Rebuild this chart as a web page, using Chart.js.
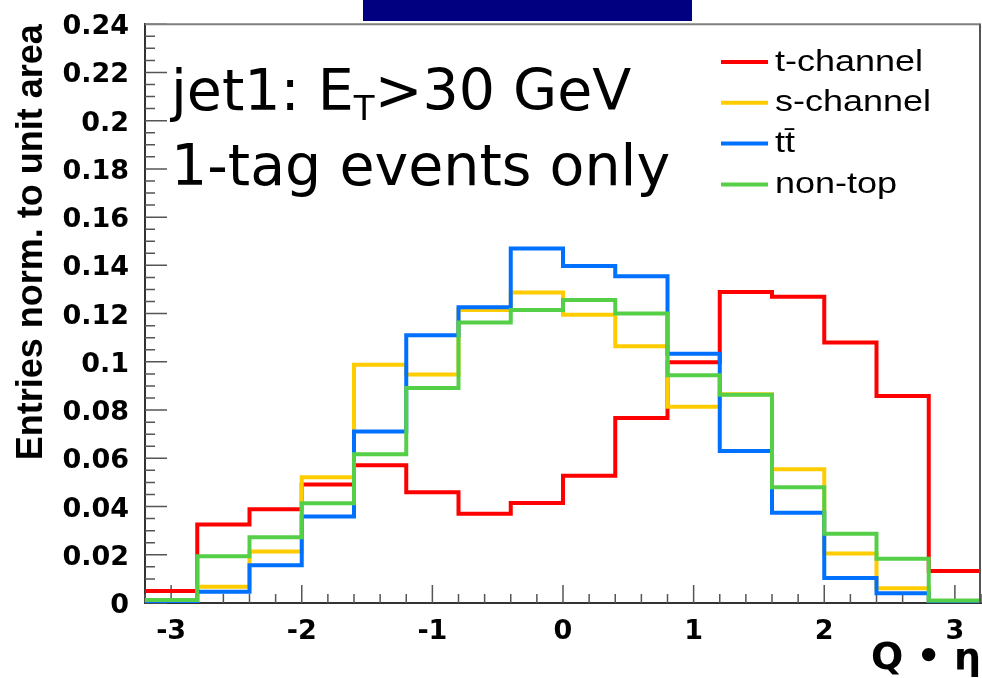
<!DOCTYPE html>
<html>
<head>
<meta charset="utf-8">
<script src="https://cdn.jsdelivr.net/npm/chart.js@4.4.1/dist/chart.umd.min.js"></script>
<style>
  html, body { margin: 0; padding: 0; background: #fff; }
  #wrap { position: relative; width: 982px; height: 678px; }
  #banner { position: absolute; left: 363px; top: 0; width: 329px; height: 21px; background: #000080; }
</style>
</head>
<body>
<div id="wrap">
  <canvas id="chart"></canvas>
  <div id="banner"></div>
</div>
<script>
// Q·η of the leading jet (E_T > 30 GeV), 1-tag events, each sample normalised to unit area
const binEdges = [-3.2, -2.8, -2.4, -2.0, -1.6, -1.2, -0.8, -0.4, 0.0, 0.4, 0.8, 1.2, 1.6, 2.0, 2.4, 2.8, 3.2];

const tChannel = [0.0050, 0.0326, 0.0389, 0.0491, 0.0571, 0.0459, 0.0370, 0.0415,
                  0.0528, 0.0767, 0.0998, 0.1290, 0.1270, 0.1080, 0.0858, 0.0133];
const sChannel = [0.0005, 0.0067, 0.0214, 0.0521, 0.0988, 0.0947, 0.1215, 0.1287,
                  0.1195, 0.1065, 0.0814, 0.0866, 0.0555, 0.0205, 0.0061, 0.0002];
const ttbar    = [0.0000, 0.0047, 0.0157, 0.0359, 0.0711, 0.1110, 0.1226, 0.1470,
                  0.1397, 0.1355, 0.1034, 0.0630, 0.0374, 0.0104, 0.0040, 0.0000];
const nonTop   = [0.0012, 0.0194, 0.0273, 0.0414, 0.0617, 0.0892, 0.1163, 0.1215,
                  0.1256, 0.1200, 0.0944, 0.0864, 0.0480, 0.0287, 0.0184, 0.0010];

const seriesNames = ['t-channel', 's-channel', 't\u0074\u0304', 'non-top'];
const seriesColors = ['#ff0000', '#ffcc00', '#0070ff', '#55cf48'];

const xTickValues = [-3, -2, -1, 0, 1, 2, 3];
const xTickLabels = ['-3', '-2', '-1', '0', '1', '2', '3'];
const yTickValues = [0, 0.02, 0.04, 0.06, 0.08, 0.10, 0.12, 0.14, 0.16, 0.18, 0.20, 0.22, 0.24];
const yTickLabels = ['0', '0.02', '0.04', '0.06', '0.08', '0.1', '0.12', '0.14', '0.16', '0.18', '0.2', '0.22', '0.24'];

// one point per bin low edge, plus the upper edge of the last bin, drawn as a step outline
function histPoints(values) {
  return binEdges.map((x, i) => ({ x: x, y: values[Math.min(i, values.length - 1)] }));
}

const allSeries = [tChannel, sChannel, ttbar, nonTop];
const datasets = allSeries.map((vals, i) => ({
  label: seriesNames[i],
  data: histPoints(vals),
  borderColor: seriesColors[i],
  backgroundColor: seriesColors[i],
  borderWidth: 4,
  stepped: 'before',
  fill: false,
  pointRadius: 0,
  borderJoinStyle: 'miter',
  borderCapStyle: 'butt',
  order: allSeries.length - 1 - i
}));

// inside tick marks (major + minor) and the upper/right frame
const framePlugin = {
  id: 'frame',
  beforeDatasetsDraw(chart) {
    const { ctx, chartArea: a, scales: { x, y } } = chart;
    ctx.save();
    ctx.strokeStyle = '#555';
    ctx.lineWidth = 1.5;
    ctx.beginPath();
    for (let k = -16; k <= 16; k++) {
      const px = x.getPixelForValue(k * 0.2);
      const len = (k % 5 === 0) ? 18 : 9;
      ctx.moveTo(px, a.bottom);
      ctx.lineTo(px, a.bottom - len);
    }
    for (let k = 0; k <= 48; k++) {
      const py = y.getPixelForValue(k * 0.005);
      const len = (k % 4 === 0) ? 22 : 10;
      ctx.moveTo(a.left, py);
      ctx.lineTo(a.left + len, py);
    }
    ctx.stroke();
    ctx.restore();
  },
  afterDraw(chart) {
    const { ctx, chartArea: a } = chart;
    ctx.save();
    ctx.lineWidth = 2;
    ctx.strokeStyle = '#808080';
    ctx.beginPath();
    ctx.moveTo(a.left, a.top);
    ctx.lineTo(a.right, a.top);
    ctx.stroke();
    ctx.strokeStyle = '#555';
    ctx.beginPath();
    ctx.moveTo(a.right - 1, a.top);
    ctx.lineTo(a.right - 1, a.bottom);
    ctx.stroke();
    ctx.restore();
  }
};

// legend box entries and the selection caption
const notesPlugin = {
  id: 'notes',
  afterDraw(chart) {
    const ctx = chart.ctx;
    ctx.save();
    ctx.fillStyle = '#000';
    ctx.textBaseline = 'alphabetic';
    ctx.textAlign = 'left';

    // caption
    const big = '57px "DejaVu Sans"';
    const sub = '34px "DejaVu Sans"';
    let tx = 171;
    ctx.font = big;
    ctx.fillText('jet1: E', tx, 110);
    tx += ctx.measureText('jet1: E').width;
    ctx.font = sub;
    ctx.fillText('T', tx, 120);
    tx += ctx.measureText('T').width;
    ctx.font = big;
    ctx.fillText('>30 GeV', tx, 110);
    ctx.fillText('1-tag events only', 171, 185);

    // legend
    const x0 = 721, x1 = 768, y0 = 62, dy = 40.8, textX = 775;
    chart.data.datasets.forEach((ds, i) => {
      const ly = y0 + i * dy;
      ctx.strokeStyle = ds.borderColor;
      ctx.lineWidth = 4;
      ctx.beginPath();
      ctx.moveTo(x0, ly);
      ctx.lineTo(x1, ly);
      ctx.stroke();
      ctx.save();
      ctx.translate(textX, ly + 8.5);
      ctx.scale(1.2, 1);
      ctx.font = '30px "Liberation Sans"';
      ctx.fillStyle = '#000';
      ctx.fillText(ds.label, 0, 0);
      ctx.restore();
    });
    ctx.restore();
  }
};

new Chart(document.getElementById('chart'), {
  type: 'line',
  data: { datasets: datasets },
  options: {
    responsive: true,
    maintainAspectRatio: false,
    animation: false,
    layout: { padding: { top: 21, right: 1, bottom: 0, left: 0 } },
    plugins: {
      legend: { display: false },
      tooltip: { enabled: false }
    },
    scales: {
      x: {
        type: 'linear',
        min: -3.2,
        max: 3.2,
        afterBuildTicks: (s) => { s.ticks = xTickValues.map(v => ({ value: v })); },
        afterFit: (s) => { s.height = 75; },
        grid: { display: false },
        border: { display: true, color: '#333', width: 2 },
        ticks: {
          padding: 5,
          color: '#000',
          font: { family: 'DejaVu Sans', weight: 'bold', size: 27 },
          callback: (v) => xTickLabels[xTickValues.indexOf(v)]
        },
        title: {
          display: true,
          text: 'Q • η',
          align: 'end',
          color: '#000',
          font: { family: 'DejaVu Sans', weight: 'bold', size: 38, lineHeight: 1 },
          padding: { top: 0, bottom: 0 }
        }
      },
      y: {
        type: 'linear',
        min: 0,
        max: 0.24,
        afterBuildTicks: (s) => { s.ticks = yTickValues.map(v => ({ value: v })); },
        afterFit: (s) => { s.width = 145; },
        grid: { display: false },
        border: { display: true, color: '#333', width: 2 },
        ticks: {
          padding: 8,
          labelOffset: 3,
          color: '#000',
          font: { family: 'DejaVu Sans', weight: 'bold', size: 27 },
          callback: (v) => yTickLabels[yTickValues.indexOf(v)]
        },
        title: {
          display: true,
          text: 'Entries norm. to unit area',
          align: 'end',
          color: '#000',
          font: { family: 'Liberation Sans', weight: 'bold', size: 36, lineHeight: 1 },
          padding: { top: 14, bottom: 0 }
        }
      }
    }
  },
  plugins: [framePlugin, notesPlugin]
});
</script>
</body>
</html>
